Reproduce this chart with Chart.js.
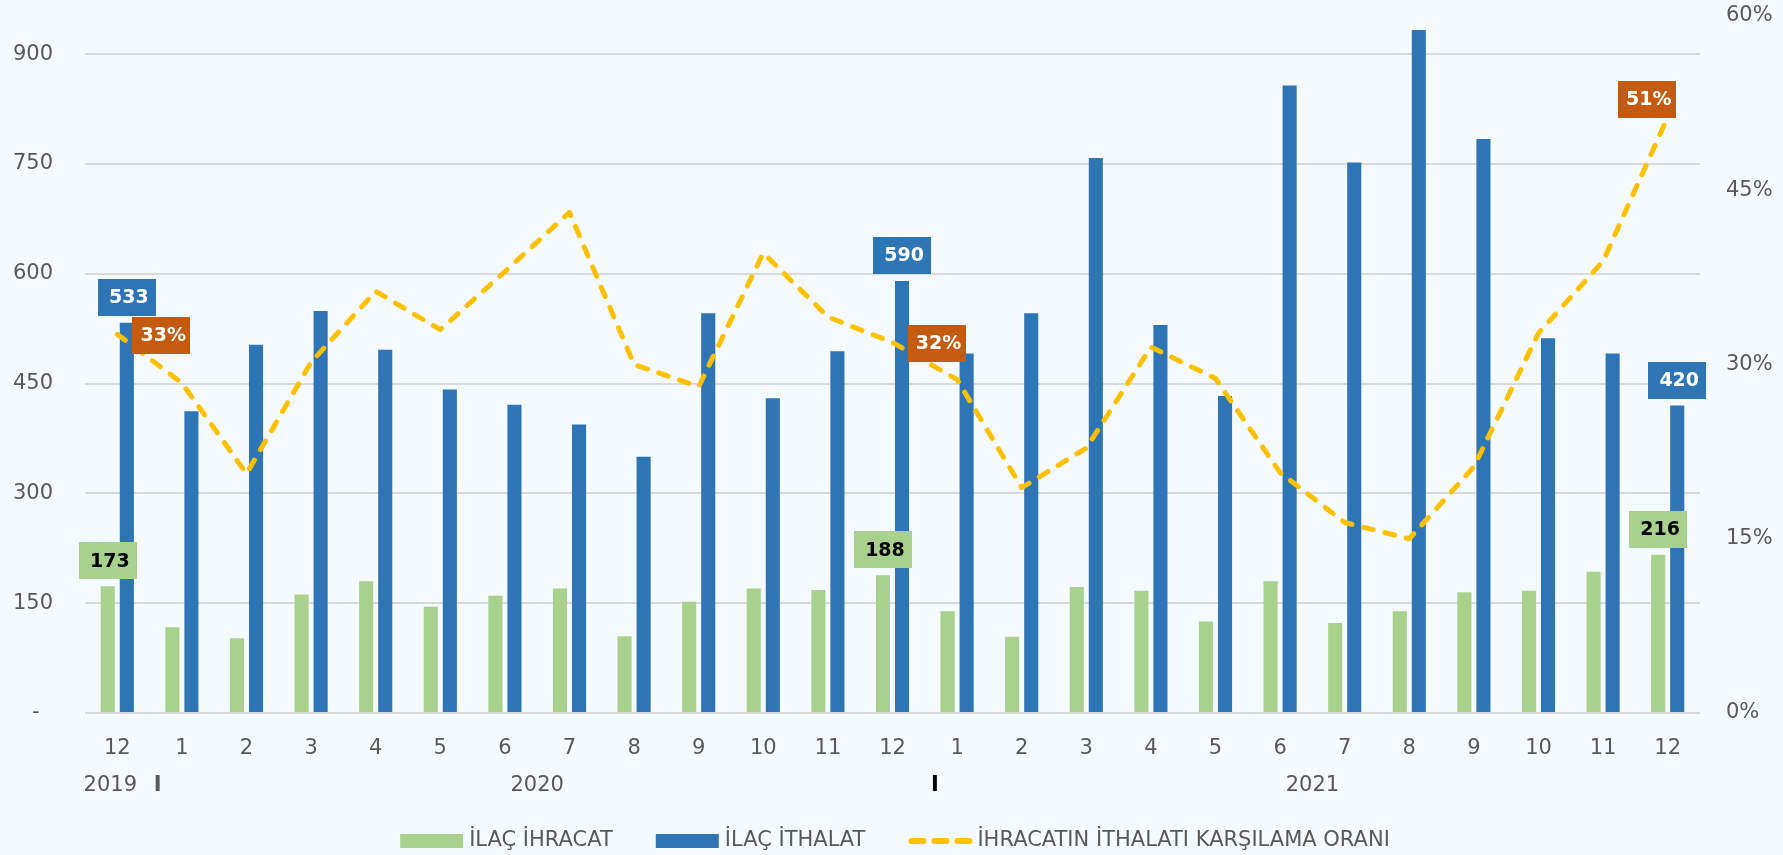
<!DOCTYPE html>
<html>
<head>
<meta charset="utf-8">
<script src="https://cdn.jsdelivr.net/npm/chart.js@4.4.1/dist/chart.umd.min.js"></script>
<style>
  html, body { margin: 0; padding: 0; background: #F5FAFE; }
  #wrap { width: 1783px; height: 855px; position: relative; background: #F5FAFE; }
</style>
</head>
<body>
<div id="wrap"><canvas id="chart"></canvas></div>
<script>
// ---------- DATA ----------
const categories = ['12','1','2','3','4','5','6','7','8','9','10','11','12','1','2','3','4','5','6','7','8','9','10','11','12'];
const yearLabels = ['2019', '2020', '2021'];
const yearFirstIndex = [0, 1, 13];
const yearLastIndex = [0, 12, 24];
const exportValues = [173,117,102,162,180,145,160,170,105,152,170,168,188,139,104,172,167,125,180,123,139,165,167,193,216];
const importValues = [533,412,503,549,496,442,421,394,350,546,430,494,590,491,546,758,530,433,857,752,933,784,512,491,420];
const coverageRatio = [0.326,0.284,0.206,0.302,0.363,0.330,0.380,0.431,0.300,0.281,0.396,0.341,0.319,0.287,0.194,0.228,0.315,0.288,0.207,0.164,0.150,0.212,0.327,0.389,0.513];
const labeledIndices = [0, 12, 24];
const leftTicks = [0, 150, 300, 450, 600, 750, 900];
const rightTicks = [0, 0.15, 0.30, 0.45, 0.60];
const legendNames = ['İLAÇ İHRACAT', 'İLAÇ İTHALAT', 'İHRACATIN İTHALATI KARŞILAMA ORANI'];

// ---------- STYLE ----------
const GREEN = '#A9D18E', BLUE = '#2E75B6', GOLD = '#FFC000', ORANGE = '#C55A11';
const TEXT = '#595959';
const FONT = 'DejaVu Sans';

const labelPlugin = {
  id: 'boxLabels',
  afterDatasetsDraw(chart) {
    const ctx = chart.ctx;
    ctx.save();
    ctx.font = 'bold 19px "' + FONT + '"';
    ctx.textAlign = 'center';
    ctx.textBaseline = 'middle';
    const boxW = 58, boxH = 37;
    const drawBox = (cx, cy, fill, color, text) => {
      ctx.fillStyle = fill;
      ctx.fillRect(Math.round(cx - boxW / 2), Math.round(cy - boxH / 2), boxW, boxH);
      ctx.fillStyle = color;
      ctx.fillText(text, cx + 2, cy + 1);
    };
    const lineMeta = chart.getDatasetMeta(0);
    const expMeta = chart.getDatasetMeta(1);
    const impMeta = chart.getDatasetMeta(2);
    labeledIndices.forEach((idx, k) => {
      const e = expMeta.data[idx];
      drawBox(e.x, e.y - 7 - boxH / 2, GREEN, '#000000', String(exportValues[idx]));
      const b = impMeta.data[idx];
      drawBox(b.x, b.y - 7 - boxH / 2, BLUE, '#FFFFFF', String(importValues[idx]));
      const p = lineMeta.data[idx];
      const txt = Math.round(coverageRatio[idx] * 100) + '%';
      if (k < labeledIndices.length - 1) {
        drawBox(p.x + 15 + boxW / 2, p.y + 1, ORANGE, '#FFFFFF', txt);
      } else {
        drawBox(p.x - 21, p.y - 18, ORANGE, '#FFFFFF', txt);
      }
    });
    ctx.restore();
  }
};

const axisExtrasPlugin = {
  id: 'axisExtras',
  afterDraw(chart) {
    const ctx = chart.ctx;
    const x = chart.scales.x;
    ctx.save();
    ctx.font = '21px "' + FONT + '"';
    ctx.textAlign = 'center';
    ctx.textBaseline = 'middle';
    // year row
    ctx.fillStyle = TEXT;
    yearLabels.forEach((y, i) => {
      let cx = (x.getPixelForValue(yearFirstIndex[i]) + x.getPixelForValue(yearLastIndex[i])) / 2;
      if (i === 0) cx -= 7;
      ctx.fillText(y, cx, 786);
    });
    // group separators
    const half = (x.getPixelForValue(1) - x.getPixelForValue(0)) / 2;
    ctx.font = 'bold 21px "' + FONT + '"';
    ctx.fillStyle = TEXT;
    ctx.fillText('I', x.getPixelForValue(yearLastIndex[0]) + half + 8, 786);
    ctx.fillStyle = '#000000';
    ctx.fillText('I', x.getPixelForValue(yearLastIndex[1]) + half + 10, 786);

    // legend
    ctx.font = '21px "' + FONT + '"';
    const swW = 63, gap = 6, spacing = 43, ly = 841;
    const widths = legendNames.map(n => ctx.measureText(n).width);
    const total = widths.reduce((a, w) => a + swW + gap + w, 0) + spacing * (legendNames.length - 1);
    let lx = 895 - total / 2;
    ctx.textAlign = 'left';
    legendNames.forEach((n, i) => {
      if (i === 0 || i === 1) {
        ctx.fillStyle = i === 0 ? GREEN : BLUE;
        ctx.fillRect(lx, ly - 7, swW, 14);
      } else {
        ctx.strokeStyle = GOLD;
        ctx.lineWidth = 6;
        ctx.lineCap = 'round';
        ctx.setLineDash([12, 11]);
        ctx.beginPath();
        ctx.moveTo(lx + 3, ly);
        ctx.lineTo(lx + swW - 2, ly);
        ctx.stroke();
        ctx.setLineDash([]);
      }
      ctx.fillStyle = TEXT;
      ctx.fillText(n, lx + swW + gap, ly);
      lx += swW + gap + widths[i] + spacing;
    });
    ctx.restore();
  }
};

new Chart(document.getElementById('chart'), {
  data: {
    labels: categories,
    datasets: [
      {
        type: 'line',
        label: legendNames[2],
        data: coverageRatio,
        yAxisID: 'y1',
        borderColor: GOLD,
        borderWidth: 5,
        borderDash: [10, 12],
        borderCapStyle: 'round',
        borderJoinStyle: 'round',
        pointRadius: 0,
        tension: 0,
        fill: false,
        order: 0
      },
      {
        type: 'bar',
        label: legendNames[0],
        data: exportValues,
        yAxisID: 'y',
        backgroundColor: GREEN,
        categoryPercentage: 0.59,
        barPercentage: 0.74,
        order: 1
      },
      {
        type: 'bar',
        label: legendNames[1],
        data: importValues,
        yAxisID: 'y',
        backgroundColor: BLUE,
        categoryPercentage: 0.59,
        barPercentage: 0.74,
        order: 1
      }
    ]
  },
  options: {
    responsive: true,
    maintainAspectRatio: false,
    animation: false,
    events: [],
    layout: { padding: { top: 16, left: 0, right: 0, bottom: 0 } },
    plugins: { legend: { display: false }, tooltip: { enabled: false } },
    scales: {
      x: {
        grid: { display: false, drawTicks: false },
        border: { display: false },
        ticks: { autoSkip: false, maxRotation: 0, padding: 23, color: TEXT, font: { family: FONT, size: 21 } },
        afterFit(s) { s.height = 142; s.paddingLeft = 0; s.paddingRight = 0; }
      },
      y: {
        position: 'left',
        min: 0,
        max: 952,
        grid: { color: '#D9D9D9', lineWidth: 2, drawTicks: false },
        border: { display: false },
        afterBuildTicks(s) { s.ticks = leftTicks.map(v => ({ value: v })); },
        ticks: {
          padding: 32,
          color: TEXT,
          font: { family: FONT, size: 21 },
          callback: v => (v === 0 ? '-  ' : String(v))
        },
        afterFit(s) { s.width = 85; s.paddingTop = 0; s.paddingBottom = 0; }
      },
      y1: {
        position: 'right',
        min: 0,
        max: 0.6,
        grid: { display: false, drawTicks: false },
        border: { display: false },
        afterBuildTicks(s) { s.ticks = rightTicks.map(v => ({ value: v })); },
        ticks: {
          padding: 26,
          color: TEXT,
          font: { family: FONT, size: 21 },
          callback: v => Math.round(v * 100) + '%'
        },
        afterFit(s) { s.width = 83; s.paddingTop = 0; s.paddingBottom = 0; }
      }
    }
  },
  plugins: [labelPlugin, axisExtrasPlugin]
});
</script>
</body>
</html>
